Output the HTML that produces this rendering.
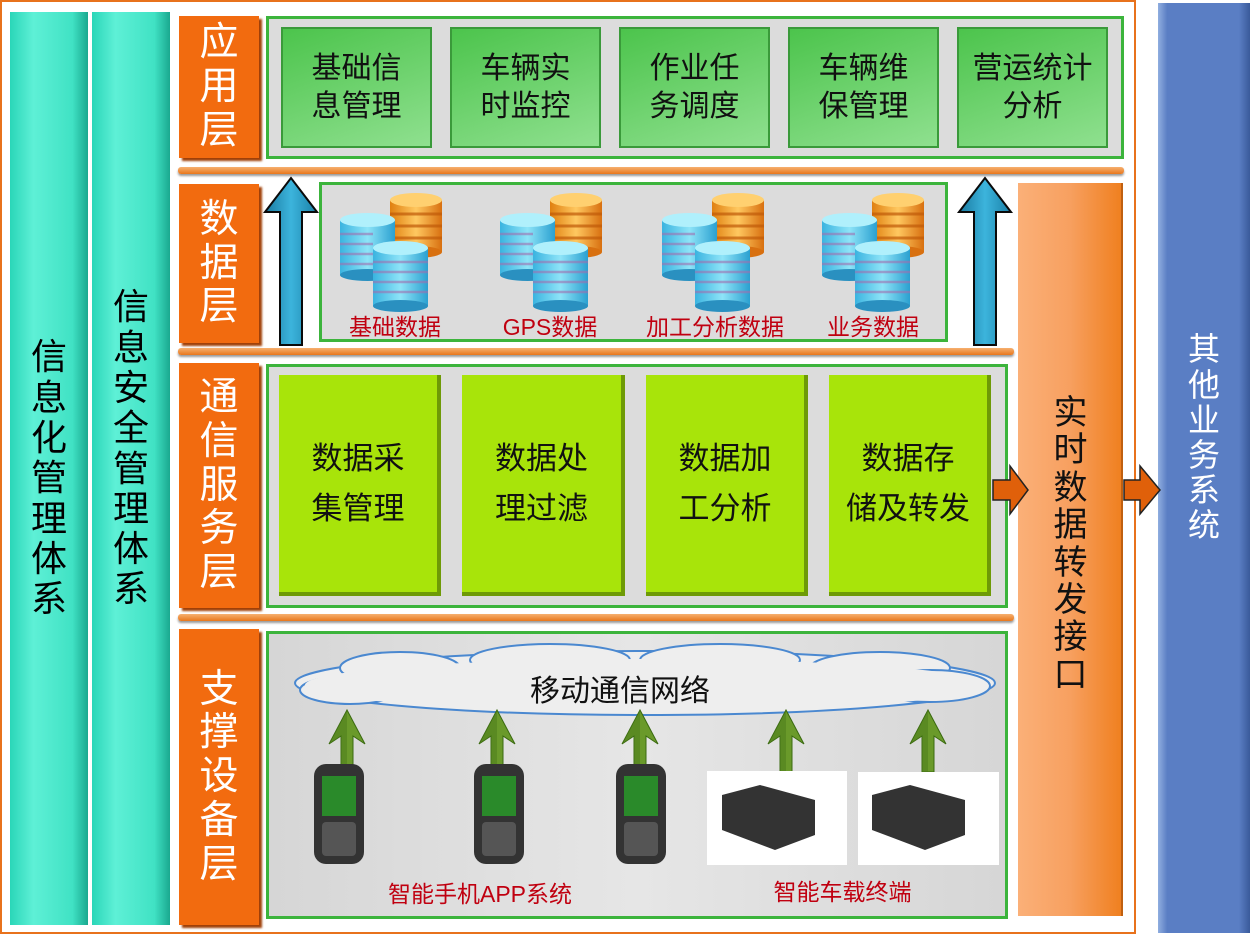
<!DOCTYPE html>
<html><head><meta charset="utf-8"><style>
*{margin:0;padding:0;box-sizing:border-box}
body{width:1253px;height:935px;background:#fff;position:relative;overflow:hidden;font-family:"Liberation Sans","Noto Sans CJK SC",sans-serif}
.a{position:absolute}
.vt{display:flex;flex-direction:column;align-items:center;justify-content:center;line-height:1.12}
.teal{background:linear-gradient(90deg,#2ad6b8,#5ef0d6 30%,#40e2c4 80%,#1aa88f);color:#000;font-size:36px}
.lay{background:#f26b0f;color:#fff;font-size:39px;box-shadow:3px 3px 2px #a04008}
.box{border:3px solid #3cb43c;background:#dcdcdc}
.gb{background:linear-gradient(160deg,#4cc44c,#8fe08f);border:2px solid #3a9a3a;font-size:30px;color:#111;display:flex;align-items:center;justify-content:center;text-align:center;line-height:1.25}
.yb{background:#a8e40a;border-right:4px solid #6e9a06;border-bottom:4px solid #6e9a06;font-size:31px;color:#111;display:flex;align-items:center;justify-content:center;text-align:center;line-height:1.6}
.sep{height:7px;background:linear-gradient(#f6b070,#e8771c);border-radius:3px;box-shadow:0 2px 2px #999}
.lbl{color:#c00010;font-size:23px;text-align:center}
</style></head><body>
<div class="a" style="left:0;top:0;width:1136px;height:934px;border:2px solid #e8721c"></div>
<div class="a teal vt" style="left:10px;top:12px;width:78px;height:913px;padding-top:20px">信<br>息<br>化<br>管<br>理<br>体<br>系</div>
<div class="a teal vt" style="left:92px;top:12px;width:78px;height:913px;padding-bottom:40px">信<br>息<br>安<br>全<br>管<br>理<br>体<br>系</div>
<div class="a" style="left:1158px;top:3px;width:92px;height:930px;background:linear-gradient(90deg,#90aee0,#5a7ec4 10%,#5a7ec4 88%,#3a5a9a)"></div>
<div class="a vt" style="left:1158px;top:3px;width:92px;height:930px;color:#fff;font-size:32px;line-height:1.1;padding-bottom:60px">其<br>他<br>业<br>务<br>系<br>统</div>

<div class="a lay vt" style="left:179px;top:16px;width:80px;height:142px">应<br>用<br>层</div>
<div class="a lay vt" style="left:179px;top:184px;width:80px;height:159px">数<br>据<br>层</div>
<div class="a lay vt" style="left:179px;top:363px;width:80px;height:245px">通<br>信<br>服<br>务<br>层</div>
<div class="a lay vt" style="left:179px;top:629px;width:80px;height:296px">支<br>撑<br>设<br>备<br>层</div>

<div class="a sep" style="left:178px;top:167px;width:946px"></div>
<div class="a sep" style="left:178px;top:348px;width:836px"></div>
<div class="a sep" style="left:178px;top:614px;width:836px"></div>

<div class="a box" style="left:266px;top:16px;width:858px;height:143px"></div>
<div class="a gb" style="left:281px;top:27px;width:151px;height:121px">基础信<br>息管理</div>
<div class="a gb" style="left:450px;top:27px;width:151px;height:121px">车辆实<br>时监控</div>
<div class="a gb" style="left:619px;top:27px;width:151px;height:121px">作业任<br>务调度</div>
<div class="a gb" style="left:788px;top:27px;width:151px;height:121px">车辆维<br>保管理</div>
<div class="a gb" style="left:957px;top:27px;width:151px;height:121px">营运统计<br>分析</div>

<div class="a box" style="left:319px;top:182px;width:629px;height:160px"></div>
<svg class="a" style="left:0;top:0" width="1253" height="935">
<defs>
<linearGradient id="bl" x1="0" x2="1"><stop offset="0" stop-color="#3ab4e0"/><stop offset=".5" stop-color="#8ee4f8"/><stop offset="1" stop-color="#2aa0d0"/></linearGradient>
<linearGradient id="or" x1="0" x2="1"><stop offset="0" stop-color="#e08010"/><stop offset=".5" stop-color="#ffc860"/><stop offset="1" stop-color="#d87010"/></linearGradient>
<g id="cyl">
<rect x="50" y="8" width="52" height="52" fill="url(#or)"/><ellipse cx="76" cy="60" rx="26" ry="6" fill="#d87010"/><ellipse cx="76" cy="8" rx="26" ry="7" fill="#ffd070"/>
<g stroke="#c05a08" stroke-width="3" opacity=".7"><line x1="50" y1="22" x2="102" y2="22"/><line x1="50" y1="34" x2="102" y2="34"/><line x1="50" y1="46" x2="102" y2="46"/></g>
<rect x="0" y="28" width="55" height="55" fill="url(#bl)"/><ellipse cx="27.5" cy="83" rx="27.5" ry="6" fill="#2a90c0"/><ellipse cx="27.5" cy="28" rx="27.5" ry="7" fill="#b0f0fc"/>
<rect x="33" y="56" width="55" height="58" fill="url(#bl)"/><ellipse cx="60.5" cy="114" rx="27.5" ry="6" fill="#2a90c0"/><ellipse cx="60.5" cy="56" rx="27.5" ry="7" fill="#b0f0fc"/>
<g stroke="#a070b0" stroke-width="2.5" opacity=".6"><line x1="33" y1="70" x2="88" y2="70"/><line x1="33" y1="80" x2="88" y2="80"/><line x1="33" y1="90" x2="88" y2="90"/><line x1="33" y1="100" x2="88" y2="100"/><line x1="0" y1="42" x2="33" y2="42"/><line x1="0" y1="52" x2="33" y2="52"/><line x1="0" y1="62" x2="33" y2="62"/><line x1="0" y1="72" x2="33" y2="72"/></g>
</g>
<linearGradient id="ba" x1="0" x2="1"><stop offset="0" stop-color="#1a7aa0"/><stop offset=".5" stop-color="#3cb4dc"/><stop offset="1" stop-color="#1a80a8"/></linearGradient>
<g id="up"><path d="M-6,0 V-36 L-18,-28 0,-62 18,-28 6,-36 V0 Z" fill="#6a9a2a" stroke="#3a6a10" stroke-width="1"/><path d="M0,-62 L0,0 H-6 V-36 L-18,-28 Z" fill="#4a7a1a" opacity=".5"/></g>
</defs>
<use href="#cyl" x="340" y="192"/><use href="#cyl" x="500" y="192"/><use href="#cyl" x="662" y="192"/><use href="#cyl" x="822" y="192"/>
<path d="M280,345 V212 H265 L291,178 317,212 H302 V345 Z" fill="url(#ba)" stroke="#0a0a0a" stroke-width="2"/>
<path d="M974,345 V212 H959 L985,178 1011,212 H996 V345 Z" fill="url(#ba)" stroke="#0a0a0a" stroke-width="2"/>
</svg>
<div class="a lbl" style="left:330px;top:308px;width:130px">基础数据</div>
<div class="a lbl" style="left:485px;top:308px;width:130px">GPS数据</div>
<div class="a lbl" style="left:635px;top:308px;width:160px">加工分析数据</div>
<div class="a lbl" style="left:808px;top:308px;width:130px">业务数据</div>

<div class="a box" style="left:266px;top:364px;width:742px;height:244px"></div>
<div class="a yb" style="left:279px;top:375px;width:162px;height:221px">数据采<br>集管理</div>
<div class="a yb" style="left:462px;top:375px;width:163px;height:221px">数据处<br>理过滤</div>
<div class="a yb" style="left:646px;top:375px;width:162px;height:221px">数据加<br>工分析</div>
<div class="a yb" style="left:829px;top:375px;width:162px;height:221px">数据存<br>储及转发</div>

<div class="a" style="left:1018px;top:183px;width:105px;height:733px;background:linear-gradient(90deg,#fbb078,#f7a060 50%,#f08020);border-right:2px solid #c06010"></div>
<div class="a vt" style="left:1018px;top:183px;width:105px;height:733px;font-size:34px;color:#111;line-height:1.1;padding-bottom:10px">实<br>时<br>数<br>据<br>转<br>发<br>接<br>口</div>
<svg class="a" style="left:0;top:0" width="1253" height="935">
<path d="M993,480 H1010 V466 L1028,490 1010,514 V500 H993 Z" fill="#e0600a" stroke="#222" stroke-width="1.5"/>
<path d="M1124,480 H1140 V466 L1160,490 1140,514 V500 H1124 Z" fill="#e0600a" stroke="#222" stroke-width="1.5"/>
</svg>

<div class="a box" style="left:266px;top:631px;width:742px;height:288px;background:linear-gradient(90deg,#d6d6d6,#e6e6e6 50%,#d6d6d6)"></div>
<svg class="a" style="left:0;top:0" width="1253" height="935">
<ellipse cx="645" cy="683" rx="350" ry="32" fill="#eeeeee" stroke="#4a88d0" stroke-width="2"/>
<g fill="#eeeeee" stroke="#4a88d0" stroke-width="2"><ellipse cx="400" cy="668" rx="60" ry="16"/><ellipse cx="550" cy="660" rx="80" ry="16"/><ellipse cx="720" cy="660" rx="80" ry="16"/><ellipse cx="880" cy="668" rx="70" ry="16"/><ellipse cx="930" cy="686" rx="60" ry="16"/><ellipse cx="350" cy="690" rx="50" ry="14"/></g>
<ellipse cx="645" cy="685" rx="340" ry="26" fill="#eeeeee"/>
<g transform="translate(347,772)"><use href="#up"/></g>
<g transform="translate(497,772)"><use href="#up"/></g>
<g transform="translate(640,772)"><use href="#up"/></g>
<g transform="translate(786,772)"><use href="#up"/></g>
<g transform="translate(928,772)"><use href="#up"/></g>
<g fill="#333"><rect x="314" y="764" width="50" height="100" rx="12"/><rect x="474" y="764" width="50" height="100" rx="12"/><rect x="616" y="764" width="50" height="100" rx="12"/></g>
<g fill="#2a8a2a"><rect x="322" y="776" width="34" height="40"/><rect x="482" y="776" width="34" height="40"/><rect x="624" y="776" width="34" height="40"/></g>
<g fill="#555"><rect x="322" y="822" width="34" height="34" rx="4"/><rect x="482" y="822" width="34" height="34" rx="4"/><rect x="624" y="822" width="34" height="34" rx="4"/></g>
<rect x="707" y="771" width="140" height="94" fill="#fff"/><rect x="858" y="772" width="141" height="93" fill="#fff"/>
<polygon points="722,795 760,785 815,800 815,835 775,850 722,830" fill="#333"/>
<polygon points="872,795 910,785 965,800 965,835 925,850 872,830" fill="#333"/>
</svg>
<div class="a" style="left:420px;top:666px;width:400px;text-align:center;font-size:30px;color:#111">移动通信网络</div>
<div class="a lbl" style="left:370px;top:875px;width:220px">智能手机APP系统</div>
<div class="a lbl" style="left:760px;top:873px;width:165px">智能车载终端</div>
</body></html>
